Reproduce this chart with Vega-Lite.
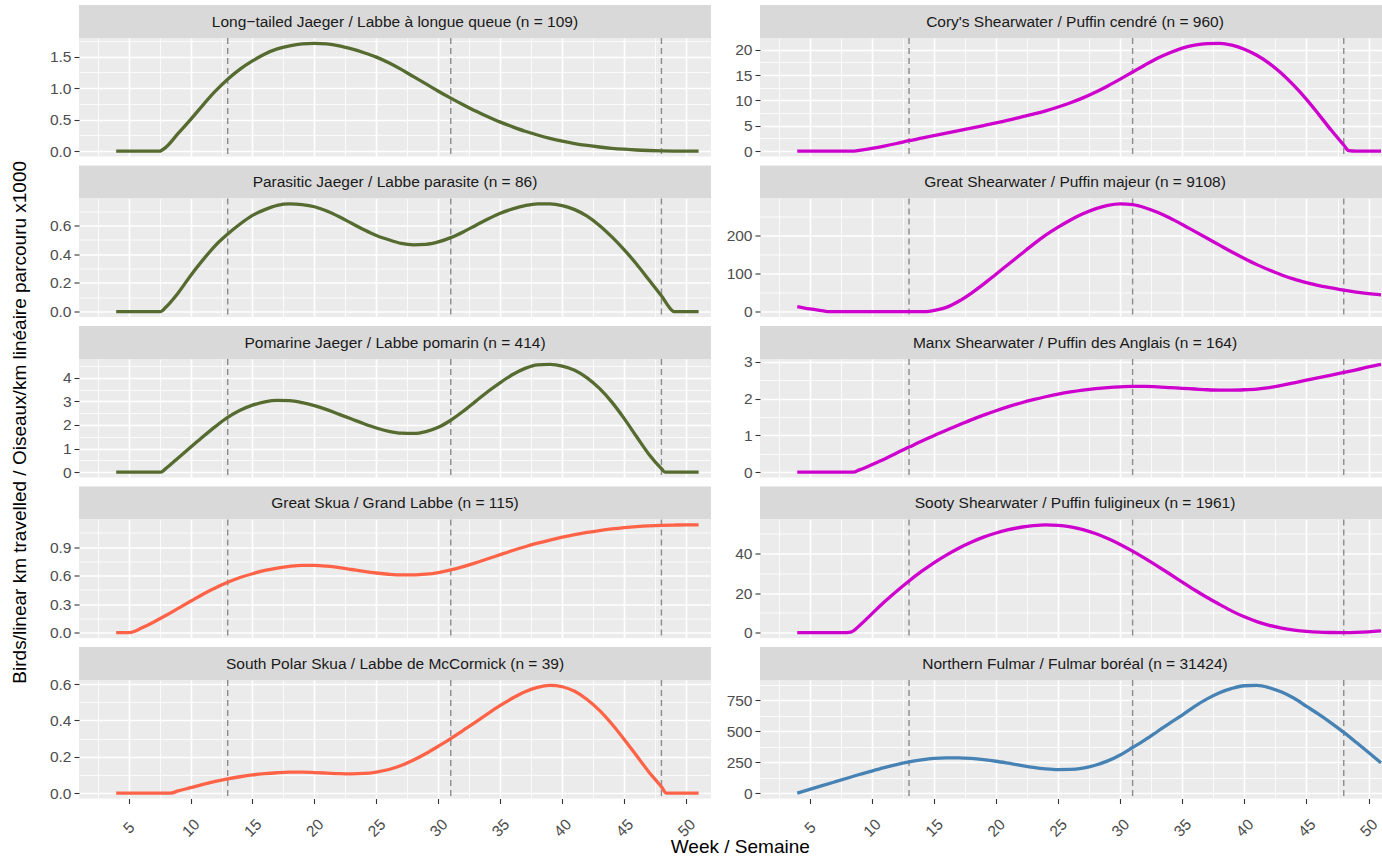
{
"$schema":"https://vega.github.io/schema/vega-lite/v6.json",
"padding":{"left":10,"top":5,"right":0,"bottom":0},
"config":{"font":"Liberation Sans","view":{"fill":"#ebebeb","stroke":null},
"axis":{"labelFontSize":15.5,"labelColor":"#4d4d4d","tickColor":"#333333","tickWidth":1.1,"tickSize":5,"domain":false,"gridColor":"#ffffff","gridOpacity":1,"labelOverlap":false,"labelFlush":false,"labelPadding":3},
"title":{"fontWeight":"normal","color":"#000000","fontSize":19}},
"datasets":{
"vlines":[{"week":13},{"week":31},{"week":48}],
"ltja":[{"week":4,"value":0},{"week":5,"value":0},{"week":6,"value":0},{"week":7,"value":0},{"week":7.5,"value":0},{"week":8,"value":0.06},{"week":9,"value":0.28},{"week":10,"value":0.5},{"week":11,"value":0.73},{"week":12,"value":0.95},{"week":13,"value":1.14},{"week":14,"value":1.3},{"week":15,"value":1.43},{"week":16,"value":1.54},{"week":17,"value":1.62},{"week":18,"value":1.67},{"week":19,"value":1.7},{"week":20,"value":1.708},{"week":21,"value":1.7},{"week":22,"value":1.67},{"week":23,"value":1.62},{"week":24,"value":1.56},{"week":25,"value":1.49},{"week":26,"value":1.4},{"week":27,"value":1.295},{"week":28,"value":1.18},{"week":29,"value":1.065},{"week":30,"value":0.95},{"week":31,"value":0.84},{"week":32,"value":0.735},{"week":33,"value":0.635},{"week":34,"value":0.545},{"week":35,"value":0.46},{"week":36,"value":0.385},{"week":37,"value":0.315},{"week":38,"value":0.255},{"week":39,"value":0.203},{"week":40,"value":0.158},{"week":41,"value":0.12},{"week":42,"value":0.09},{"week":43,"value":0.065},{"week":44,"value":0.045},{"week":45,"value":0.03},{"week":46,"value":0.018},{"week":47,"value":0.01},{"week":48,"value":0.004},{"week":49,"value":0.001},{"week":50,"value":0},{"week":51,"value":0}],
"paja":[{"week":4,"value":0},{"week":5,"value":0},{"week":6,"value":0},{"week":7,"value":0},{"week":7.6,"value":0},{"week":8,"value":0.03},{"week":9,"value":0.13},{"week":10,"value":0.25},{"week":11,"value":0.36},{"week":12,"value":0.46},{"week":13,"value":0.54},{"week":14,"value":0.61},{"week":15,"value":0.67},{"week":16,"value":0.71},{"week":17,"value":0.74},{"week":18,"value":0.75},{"week":19,"value":0.745},{"week":20,"value":0.73},{"week":21,"value":0.7},{"week":22,"value":0.66},{"week":23,"value":0.615},{"week":24,"value":0.57},{"week":25,"value":0.53},{"week":26,"value":0.5},{"week":27,"value":0.475},{"week":28,"value":0.465},{"week":29,"value":0.468},{"week":30,"value":0.485},{"week":31,"value":0.515},{"week":32,"value":0.555},{"week":33,"value":0.6},{"week":34,"value":0.645},{"week":35,"value":0.685},{"week":36,"value":0.715},{"week":37,"value":0.738},{"week":38,"value":0.75},{"week":39,"value":0.75},{"week":40,"value":0.738},{"week":41,"value":0.71},{"week":42,"value":0.665},{"week":43,"value":0.6},{"week":44,"value":0.52},{"week":45,"value":0.43},{"week":46,"value":0.33},{"week":47,"value":0.22},{"week":48,"value":0.11},{"week":48.9,"value":0.005},{"week":49,"value":0},{"week":50,"value":0},{"week":51,"value":0}],
"poja":[{"week":4,"value":0},{"week":5,"value":0},{"week":6,"value":0},{"week":7,"value":0},{"week":7.6,"value":0},{"week":8,"value":0.15},{"week":9,"value":0.6},{"week":10,"value":1.05},{"week":11,"value":1.5},{"week":12,"value":1.93},{"week":13,"value":2.32},{"week":14,"value":2.62},{"week":15,"value":2.84},{"week":16,"value":2.98},{"week":17,"value":3.04},{"week":18,"value":3.03},{"week":19,"value":2.95},{"week":20,"value":2.82},{"week":21,"value":2.65},{"week":22,"value":2.45},{"week":23,"value":2.25},{"week":24,"value":2.05},{"week":25,"value":1.87},{"week":26,"value":1.73},{"week":27,"value":1.65},{"week":28,"value":1.64},{"week":29,"value":1.72},{"week":30,"value":1.9},{"week":31,"value":2.2},{"week":32,"value":2.58},{"week":33,"value":3.0},{"week":34,"value":3.42},{"week":35,"value":3.8},{"week":36,"value":4.14},{"week":37,"value":4.4},{"week":38,"value":4.55},{"week":39,"value":4.57},{"week":40,"value":4.5},{"week":41,"value":4.32},{"week":42,"value":4.0},{"week":43,"value":3.55},{"week":44,"value":2.97},{"week":45,"value":2.27},{"week":46,"value":1.5},{"week":47,"value":0.75},{"week":48,"value":0.15},{"week":48.3,"value":0},{"week":49,"value":0},{"week":50,"value":0},{"week":51,"value":0}],
"grsk":[{"week":4,"value":0},{"week":5,"value":0},{"week":5.5,"value":0.015},{"week":6,"value":0.045},{"week":7,"value":0.11},{"week":8,"value":0.18},{"week":9,"value":0.255},{"week":10,"value":0.33},{"week":11,"value":0.405},{"week":12,"value":0.47},{"week":13,"value":0.53},{"week":14,"value":0.58},{"week":15,"value":0.62},{"week":16,"value":0.655},{"week":17,"value":0.68},{"week":18,"value":0.698},{"week":19,"value":0.708},{"week":20,"value":0.708},{"week":21,"value":0.7},{"week":22,"value":0.685},{"week":23,"value":0.665},{"week":24,"value":0.645},{"week":25,"value":0.628},{"week":26,"value":0.615},{"week":27,"value":0.608},{"week":28,"value":0.608},{"week":29,"value":0.616},{"week":30,"value":0.633},{"week":31,"value":0.66},{"week":32,"value":0.695},{"week":33,"value":0.735},{"week":34,"value":0.778},{"week":35,"value":0.822},{"week":36,"value":0.865},{"week":37,"value":0.905},{"week":38,"value":0.942},{"week":39,"value":0.975},{"week":40,"value":1.005},{"week":41,"value":1.032},{"week":42,"value":1.055},{"week":43,"value":1.075},{"week":44,"value":1.092},{"week":45,"value":1.106},{"week":46,"value":1.117},{"week":47,"value":1.125},{"week":48,"value":1.13},{"week":49,"value":1.133},{"week":50,"value":1.135},{"week":51,"value":1.135}],
"spsk":[{"week":4,"value":0},{"week":5,"value":0},{"week":6,"value":0},{"week":7,"value":0},{"week":8,"value":0},{"week":8.4,"value":0},{"week":9,"value":0.012},{"week":10,"value":0.03},{"week":11,"value":0.048},{"week":12,"value":0.064},{"week":13,"value":0.078},{"week":14,"value":0.09},{"week":15,"value":0.1},{"week":16,"value":0.107},{"week":17,"value":0.112},{"week":18,"value":0.115},{"week":19,"value":0.115},{"week":20,"value":0.113},{"week":21,"value":0.11},{"week":22,"value":0.107},{"week":23,"value":0.106},{"week":24,"value":0.108},{"week":25,"value":0.116},{"week":26,"value":0.13},{"week":27,"value":0.152},{"week":28,"value":0.182},{"week":29,"value":0.218},{"week":30,"value":0.258},{"week":31,"value":0.3},{"week":32,"value":0.345},{"week":33,"value":0.39},{"week":34,"value":0.437},{"week":35,"value":0.482},{"week":36,"value":0.523},{"week":37,"value":0.558},{"week":38,"value":0.582},{"week":39,"value":0.5925},{"week":40,"value":0.585},{"week":41,"value":0.56},{"week":42,"value":0.515},{"week":43,"value":0.455},{"week":44,"value":0.38},{"week":45,"value":0.295},{"week":46,"value":0.205},{"week":47,"value":0.115},{"week":48,"value":0.035},{"week":48.4,"value":0},{"week":49,"value":0},{"week":50,"value":0},{"week":51,"value":0}],
"cosh":[{"week":4,"value":0},{"week":5,"value":0},{"week":6,"value":0},{"week":7,"value":0},{"week":8,"value":0},{"week":8.6,"value":0},{"week":9,"value":0.15},{"week":10,"value":0.55},{"week":11,"value":1.0},{"week":12,"value":1.5},{"week":13,"value":2.05},{"week":14,"value":2.55},{"week":15,"value":3.05},{"week":16,"value":3.55},{"week":17,"value":4.05},{"week":18,"value":4.55},{"week":19,"value":5.05},{"week":20,"value":5.55},{"week":21,"value":6.1},{"week":22,"value":6.7},{"week":23,"value":7.3},{"week":24,"value":7.95},{"week":25,"value":8.7},{"week":26,"value":9.55},{"week":27,"value":10.5},{"week":28,"value":11.6},{"week":29,"value":12.85},{"week":30,"value":14.2},{"week":31,"value":15.6},{"week":32,"value":17.0},{"week":33,"value":18.3},{"week":34,"value":19.4},{"week":35,"value":20.3},{"week":36,"value":20.9},{"week":37,"value":21.2},{"week":38,"value":21.25},{"week":39,"value":20.9},{"week":40,"value":20.1},{"week":41,"value":18.9},{"week":42,"value":17.3},{"week":43,"value":15.3},{"week":44,"value":12.9},{"week":45,"value":10.2},{"week":46,"value":7.2},{"week":47,"value":4.1},{"week":48,"value":1.2},{"week":48.4,"value":0.1},{"week":49,"value":0},{"week":50,"value":0},{"week":51,"value":0}],
"grsh":[{"week":4,"value":13},{"week":5,"value":7},{"week":6,"value":2.5},{"week":6.6,"value":0},{"week":7,"value":0},{"week":8,"value":0},{"week":9,"value":0},{"week":10,"value":0},{"week":11,"value":0},{"week":12,"value":0},{"week":13,"value":0},{"week":14,"value":0},{"week":14.4,"value":0},{"week":15,"value":3},{"week":16,"value":11},{"week":17,"value":27},{"week":18,"value":48},{"week":19,"value":72},{"week":20,"value":98},{"week":21,"value":124},{"week":22,"value":150},{"week":23,"value":176},{"week":24,"value":200},{"week":25,"value":221},{"week":26,"value":240},{"week":27,"value":256},{"week":28,"value":269},{"week":29,"value":278},{"week":30,"value":282},{"week":31,"value":280},{"week":32,"value":272},{"week":33,"value":260},{"week":34,"value":245},{"week":35,"value":228},{"week":36,"value":210},{"week":37,"value":192},{"week":38,"value":174},{"week":39,"value":156},{"week":40,"value":139},{"week":41,"value":123},{"week":42,"value":109},{"week":43,"value":96},{"week":44,"value":85},{"week":45,"value":76},{"week":46,"value":68},{"week":47,"value":62},{"week":48,"value":56},{"week":49,"value":51},{"week":50,"value":47},{"week":51,"value":44}],
"mash":[{"week":4,"value":0},{"week":5,"value":0},{"week":6,"value":0},{"week":7,"value":0},{"week":8,"value":0},{"week":8.5,"value":0},{"week":9,"value":0.06},{"week":10,"value":0.2},{"week":11,"value":0.35},{"week":12,"value":0.52},{"week":13,"value":0.68},{"week":14,"value":0.84},{"week":15,"value":0.99},{"week":16,"value":1.14},{"week":17,"value":1.28},{"week":18,"value":1.42},{"week":19,"value":1.55},{"week":20,"value":1.67},{"week":21,"value":1.78},{"week":22,"value":1.88},{"week":23,"value":1.97},{"week":24,"value":2.05},{"week":25,"value":2.12},{"week":26,"value":2.18},{"week":27,"value":2.23},{"week":28,"value":2.27},{"week":29,"value":2.3},{"week":30,"value":2.32},{"week":31,"value":2.33},{"week":32,"value":2.33},{"week":33,"value":2.32},{"week":34,"value":2.3},{"week":35,"value":2.28},{"week":36,"value":2.26},{"week":37,"value":2.24},{"week":38,"value":2.23},{"week":39,"value":2.23},{"week":40,"value":2.24},{"week":41,"value":2.26},{"week":42,"value":2.3},{"week":43,"value":2.36},{"week":44,"value":2.43},{"week":45,"value":2.5},{"week":46,"value":2.57},{"week":47,"value":2.64},{"week":48,"value":2.71},{"week":49,"value":2.78},{"week":50,"value":2.86},{"week":51,"value":2.93}],
"sosh":[{"week":4,"value":0},{"week":5,"value":0},{"week":6,"value":0},{"week":7,"value":0},{"week":8,"value":0},{"week":8.3,"value":0.2},{"week":9,"value":3.5},{"week":10,"value":9.5},{"week":11,"value":15.5},{"week":12,"value":21},{"week":13,"value":26.2},{"week":14,"value":31},{"week":15,"value":35.4},{"week":16,"value":39.3},{"week":17,"value":42.8},{"week":18,"value":45.8},{"week":19,"value":48.4},{"week":20,"value":50.5},{"week":21,"value":52.2},{"week":22,"value":53.4},{"week":23,"value":54.2},{"week":24,"value":54.6},{"week":25,"value":54.4},{"week":26,"value":53.6},{"week":27,"value":52.2},{"week":28,"value":50.2},{"week":29,"value":47.7},{"week":30,"value":44.7},{"week":31,"value":41.3},{"week":32,"value":37.6},{"week":33,"value":33.7},{"week":34,"value":29.7},{"week":35,"value":25.6},{"week":36,"value":21.6},{"week":37,"value":17.8},{"week":38,"value":14.3},{"week":39,"value":10.9},{"week":40,"value":8.0},{"week":41,"value":5.6},{"week":42,"value":3.7},{"week":43,"value":2.3},{"week":44,"value":1.3},{"week":45,"value":0.6},{"week":46,"value":0.2},{"week":47,"value":0.05},{"week":48,"value":0},{"week":49,"value":0.1},{"week":50,"value":0.4},{"week":51,"value":0.9}],
"nofu":[{"week":4,"value":0},{"week":5,"value":30},{"week":6,"value":60},{"week":7,"value":90},{"week":8,"value":120},{"week":9,"value":150},{"week":10,"value":178},{"week":11,"value":205},{"week":12,"value":230},{"week":13,"value":252},{"week":14,"value":268},{"week":15,"value":280},{"week":16,"value":285},{"week":17,"value":285},{"week":18,"value":280},{"week":19,"value":270},{"week":20,"value":257},{"week":21,"value":241},{"week":22,"value":224},{"week":23,"value":208},{"week":24,"value":196},{"week":25,"value":190},{"week":26,"value":191},{"week":27,"value":202},{"week":28,"value":225},{"week":29,"value":260},{"week":30,"value":308},{"week":31,"value":368},{"week":32,"value":430},{"week":33,"value":497},{"week":34,"value":565},{"week":35,"value":630},{"week":36,"value":700},{"week":37,"value":760},{"week":38,"value":810},{"week":39,"value":845},{"week":40,"value":866},{"week":41,"value":869},{"week":42,"value":850},{"week":43,"value":815},{"week":44,"value":765},{"week":45,"value":700},{"week":46,"value":635},{"week":47,"value":565},{"week":48,"value":490},{"week":49,"value":410},{"week":50,"value":328},{"week":51,"value":244}]
},
"title":{"text":"Week / Semaine","orient":"bottom","anchor":"middle","offset":-2,"dx":41},
"hconcat":[
{"title":{"text":"Birds/linear km travelled / Oiseaux/km linéaire parcouru x1000","orient":"left","anchor":"middle","offset":17},
"spacing":5.5,
"vconcat":[
{"spacing":0,"bounds":"flush","vconcat":[
{"width":632,"height":33,"view":{"fill":"#d9d9d9","stroke":null},"data":{"values":[{"label":"Long−tailed Jaeger / Labbe à longue queue (n = 109)"}]},"mark":{"type":"text","fontSize":15.5,"color":"#1a1a1a"},"encoding":{"text":{"field":"label"}}},
{"width":632,"height":118.5,
"encoding":{"x":{"field":"week","type":"quantitative","scale":{"domain":[1,52],"nice":false},"axis":{"values":[2.5,5,7.5,10,12.5,15,17.5,20,22.5,25,27.5,30,32.5,35,37.5,40,42.5,45,47.5,50],"labels":false,"ticks":false,"grid":true,"gridWidth":{"condition":{"test":"abs(datum.value/5-round(datum.value/5))<0.000001","value":1.6},"value":0.8},"minExtent":0,"maxExtent":0,"title":null}}},
"layer":[
{"data":{"name":"vlines"},"mark":{"type":"rule","strokeDash":[6,4],"color":"#8c8c8c","strokeWidth":1.4},"encoding":{}},
{"data":{"name":"ltja"},"mark":{"type":"line","color":"#556B2F","strokeWidth":3.3,"interpolate":"monotone"},"encoding":{
"y":{"field":"value","type":"quantitative","scale":{"domain":[-0.0854,1.7934],"nice":false,"zero":false},"axis":{"values":[0,0.25,0.5,0.75,1,1.25,1.5,1.75],"labelExpr":"abs(datum.value/0.5-round(datum.value/0.5))<0.000001 ? format(datum.value,'.1f') : ''","tickOpacity":{"condition":{"test":"abs(datum.value/0.5-round(datum.value/0.5))<0.000001","value":1},"value":0},"gridWidth":{"condition":{"test":"abs(datum.value/0.5-round(datum.value/0.5))<0.000001","value":1.6},"value":0.8},"minExtent":32,"maxExtent":32,"title":null}}}}
]}
]},
{"spacing":0,"bounds":"flush","vconcat":[
{"width":632,"height":33,"view":{"fill":"#d9d9d9","stroke":null},"data":{"values":[{"label":"Parasitic Jaeger / Labbe parasite (n = 86)"}]},"mark":{"type":"text","fontSize":15.5,"color":"#1a1a1a"},"encoding":{"text":{"field":"label"}}},
{"width":632,"height":118.5,
"encoding":{"x":{"field":"week","type":"quantitative","scale":{"domain":[1,52],"nice":false},"axis":{"values":[2.5,5,7.5,10,12.5,15,17.5,20,22.5,25,27.5,30,32.5,35,37.5,40,42.5,45,47.5,50],"labels":false,"ticks":false,"grid":true,"gridWidth":{"condition":{"test":"abs(datum.value/5-round(datum.value/5))<0.000001","value":1.6},"value":0.8},"minExtent":0,"maxExtent":0,"title":null}}},
"layer":[
{"data":{"name":"vlines"},"mark":{"type":"rule","strokeDash":[6,4],"color":"#8c8c8c","strokeWidth":1.4},"encoding":{}},
{"data":{"name":"paja"},"mark":{"type":"line","color":"#556B2F","strokeWidth":3.3,"interpolate":"monotone"},"encoding":{
"y":{"field":"value","type":"quantitative","scale":{"domain":[-0.0375,0.7875],"nice":false,"zero":false},"axis":{"values":[0,0.1,0.2,0.3,0.4,0.5,0.6,0.7],"labelExpr":"abs(datum.value/0.2-round(datum.value/0.2))<0.000001 ? format(datum.value,'.1f') : ''","tickOpacity":{"condition":{"test":"abs(datum.value/0.2-round(datum.value/0.2))<0.000001","value":1},"value":0},"gridWidth":{"condition":{"test":"abs(datum.value/0.2-round(datum.value/0.2))<0.000001","value":1.6},"value":0.8},"minExtent":32,"maxExtent":32,"title":null}}}}
]}
]},
{"spacing":0,"bounds":"flush","vconcat":[
{"width":632,"height":33,"view":{"fill":"#d9d9d9","stroke":null},"data":{"values":[{"label":"Pomarine Jaeger / Labbe pomarin (n = 414)"}]},"mark":{"type":"text","fontSize":15.5,"color":"#1a1a1a"},"encoding":{"text":{"field":"label"}}},
{"width":632,"height":118.5,
"encoding":{"x":{"field":"week","type":"quantitative","scale":{"domain":[1,52],"nice":false},"axis":{"values":[2.5,5,7.5,10,12.5,15,17.5,20,22.5,25,27.5,30,32.5,35,37.5,40,42.5,45,47.5,50],"labels":false,"ticks":false,"grid":true,"gridWidth":{"condition":{"test":"abs(datum.value/5-round(datum.value/5))<0.000001","value":1.6},"value":0.8},"minExtent":0,"maxExtent":0,"title":null}}},
"layer":[
{"data":{"name":"vlines"},"mark":{"type":"rule","strokeDash":[6,4],"color":"#8c8c8c","strokeWidth":1.4},"encoding":{}},
{"data":{"name":"poja"},"mark":{"type":"line","color":"#556B2F","strokeWidth":3.3,"interpolate":"monotone"},"encoding":{
"y":{"field":"value","type":"quantitative","scale":{"domain":[-0.2285,4.7985],"nice":false,"zero":false},"axis":{"values":[0,0.5,1,1.5,2,2.5,3,3.5,4,4.5],"labelExpr":"abs(datum.value-round(datum.value))<0.000001 ? format(datum.value,'d') : ''","tickOpacity":{"condition":{"test":"abs(datum.value-round(datum.value))<0.000001","value":1},"value":0},"gridWidth":{"condition":{"test":"abs(datum.value-round(datum.value))<0.000001","value":1.6},"value":0.8},"minExtent":32,"maxExtent":32,"title":null}}}}
]}
]},
{"spacing":0,"bounds":"flush","vconcat":[
{"width":632,"height":33,"view":{"fill":"#d9d9d9","stroke":null},"data":{"values":[{"label":"Great Skua / Grand Labbe (n = 115)"}]},"mark":{"type":"text","fontSize":15.5,"color":"#1a1a1a"},"encoding":{"text":{"field":"label"}}},
{"width":632,"height":118.5,
"encoding":{"x":{"field":"week","type":"quantitative","scale":{"domain":[1,52],"nice":false},"axis":{"values":[2.5,5,7.5,10,12.5,15,17.5,20,22.5,25,27.5,30,32.5,35,37.5,40,42.5,45,47.5,50],"labels":false,"ticks":false,"grid":true,"gridWidth":{"condition":{"test":"abs(datum.value/5-round(datum.value/5))<0.000001","value":1.6},"value":0.8},"minExtent":0,"maxExtent":0,"title":null}}},
"layer":[
{"data":{"name":"vlines"},"mark":{"type":"rule","strokeDash":[6,4],"color":"#8c8c8c","strokeWidth":1.4},"encoding":{}},
{"data":{"name":"grsk"},"mark":{"type":"line","color":"#FF6347","strokeWidth":3.3,"interpolate":"monotone"},"encoding":{
"y":{"field":"value","type":"quantitative","scale":{"domain":[-0.05675,1.19175],"nice":false,"zero":false},"axis":{"values":[0,0.15,0.3,0.45,0.6,0.75,0.9,1.05],"labelExpr":"abs(datum.value/0.3-round(datum.value/0.3))<0.000001 ? format(datum.value,'.1f') : ''","tickOpacity":{"condition":{"test":"abs(datum.value/0.3-round(datum.value/0.3))<0.000001","value":1},"value":0},"gridWidth":{"condition":{"test":"abs(datum.value/0.3-round(datum.value/0.3))<0.000001","value":1.6},"value":0.8},"minExtent":32,"maxExtent":32,"title":null}}}}
]}
]},
{"spacing":0,"bounds":"flush","vconcat":[
{"width":632,"height":33,"view":{"fill":"#d9d9d9","stroke":null},"data":{"values":[{"label":"South Polar Skua / Labbe de McCormick (n = 39)"}]},"mark":{"type":"text","fontSize":15.5,"color":"#1a1a1a"},"encoding":{"text":{"field":"label"}}},
{"width":632,"height":118.5,
"encoding":{"x":{"field":"week","type":"quantitative","scale":{"domain":[1,52],"nice":false},"axis":{"values":[2.5,5,7.5,10,12.5,15,17.5,20,22.5,25,27.5,30,32.5,35,37.5,40,42.5,45,47.5,50],"grid":true,"gridWidth":{"condition":{"test":"abs(datum.value/5-round(datum.value/5))<0.000001","value":1.6},"value":0.8},"labelExpr":"abs(datum.value/5-round(datum.value/5))<0.000001 ? format(datum.value,'d') : ''","tickOpacity":{"condition":{"test":"abs(datum.value/5-round(datum.value/5))<0.000001","value":1},"value":0},"labelAngle":-45,"labelAlign":"center","labelBaseline":"middle","labelPadding":24,"title":null}}},
"layer":[
{"data":{"name":"vlines"},"mark":{"type":"rule","strokeDash":[6,4],"color":"#8c8c8c","strokeWidth":1.4},"encoding":{}},
{"data":{"name":"spsk"},"mark":{"type":"line","color":"#FF6347","strokeWidth":3.3,"interpolate":"monotone"},"encoding":{
"y":{"field":"value","type":"quantitative","scale":{"domain":[-0.029625,0.622125],"nice":false,"zero":false},"axis":{"values":[0,0.1,0.2,0.3,0.4,0.5,0.6],"labelExpr":"abs(datum.value/0.2-round(datum.value/0.2))<0.000001 ? format(datum.value,'.1f') : ''","tickOpacity":{"condition":{"test":"abs(datum.value/0.2-round(datum.value/0.2))<0.000001","value":1},"value":0},"gridWidth":{"condition":{"test":"abs(datum.value/0.2-round(datum.value/0.2))<0.000001","value":1.6},"value":0.8},"minExtent":32,"maxExtent":32,"title":null}}}}
]}
]}
]},
{"spacing":5.5,
"vconcat":[
{"spacing":0,"bounds":"flush","vconcat":[
{"width":622,"height":33,"view":{"fill":"#d9d9d9","stroke":null},"data":{"values":[{"label":"Cory's Shearwater / Puffin cendré (n = 960)"}]},"mark":{"type":"text","fontSize":15.5,"color":"#1a1a1a","dx":4},"encoding":{"text":{"field":"label"}}},
{"width":622,"height":118.5,
"encoding":{"x":{"field":"week","type":"quantitative","scale":{"domain":[1,51.08],"nice":false},"axis":{"values":[2.5,5,7.5,10,12.5,15,17.5,20,22.5,25,27.5,30,32.5,35,37.5,40,42.5,45,47.5,50],"labels":false,"ticks":false,"grid":true,"gridWidth":{"condition":{"test":"abs(datum.value/5-round(datum.value/5))<0.000001","value":1.6},"value":0.8},"minExtent":0,"maxExtent":0,"title":null}}},
"layer":[
{"data":{"name":"vlines"},"mark":{"type":"rule","strokeDash":[6,4],"color":"#8c8c8c","strokeWidth":1.4},"encoding":{}},
{"data":{"name":"cosh"},"mark":{"type":"line","color":"#CD00CD","strokeWidth":3.3,"interpolate":"monotone"},"encoding":{
"y":{"field":"value","type":"quantitative","scale":{"domain":[-1.0625,22.3125],"nice":false,"zero":false},"axis":{"values":[0,2.5,5,7.5,10,12.5,15,17.5,20],"labelExpr":"abs(datum.value/5-round(datum.value/5))<0.000001 ? format(datum.value,'d') : ''","tickOpacity":{"condition":{"test":"abs(datum.value/5-round(datum.value/5))<0.000001","value":1},"value":0},"gridWidth":{"condition":{"test":"abs(datum.value/5-round(datum.value/5))<0.000001","value":1.6},"value":0.8},"minExtent":36,"maxExtent":36,"title":null}}}}
]}
]},
{"spacing":0,"bounds":"flush","vconcat":[
{"width":622,"height":33,"view":{"fill":"#d9d9d9","stroke":null},"data":{"values":[{"label":"Great Shearwater / Puffin majeur (n = 9108)"}]},"mark":{"type":"text","fontSize":15.5,"color":"#1a1a1a","dx":4},"encoding":{"text":{"field":"label"}}},
{"width":622,"height":118.5,
"encoding":{"x":{"field":"week","type":"quantitative","scale":{"domain":[1,51.08],"nice":false},"axis":{"values":[2.5,5,7.5,10,12.5,15,17.5,20,22.5,25,27.5,30,32.5,35,37.5,40,42.5,45,47.5,50],"labels":false,"ticks":false,"grid":true,"gridWidth":{"condition":{"test":"abs(datum.value/5-round(datum.value/5))<0.000001","value":1.6},"value":0.8},"minExtent":0,"maxExtent":0,"title":null}}},
"layer":[
{"data":{"name":"vlines"},"mark":{"type":"rule","strokeDash":[6,4],"color":"#8c8c8c","strokeWidth":1.4},"encoding":{}},
{"data":{"name":"grsh"},"mark":{"type":"line","color":"#CD00CD","strokeWidth":3.3,"interpolate":"monotone"},"encoding":{
"y":{"field":"value","type":"quantitative","scale":{"domain":[-14.1,296.1],"nice":false,"zero":false},"axis":{"values":[0,50,100,150,200,250],"labelExpr":"abs(datum.value/100-round(datum.value/100))<0.000001 ? format(datum.value,'d') : ''","tickOpacity":{"condition":{"test":"abs(datum.value/100-round(datum.value/100))<0.000001","value":1},"value":0},"gridWidth":{"condition":{"test":"abs(datum.value/100-round(datum.value/100))<0.000001","value":1.6},"value":0.8},"minExtent":36,"maxExtent":36,"title":null}}}}
]}
]},
{"spacing":0,"bounds":"flush","vconcat":[
{"width":622,"height":33,"view":{"fill":"#d9d9d9","stroke":null},"data":{"values":[{"label":"Manx Shearwater / Puffin des Anglais (n = 164)"}]},"mark":{"type":"text","fontSize":15.5,"color":"#1a1a1a","dx":4},"encoding":{"text":{"field":"label"}}},
{"width":622,"height":118.5,
"encoding":{"x":{"field":"week","type":"quantitative","scale":{"domain":[1,51.08],"nice":false},"axis":{"values":[2.5,5,7.5,10,12.5,15,17.5,20,22.5,25,27.5,30,32.5,35,37.5,40,42.5,45,47.5,50],"labels":false,"ticks":false,"grid":true,"gridWidth":{"condition":{"test":"abs(datum.value/5-round(datum.value/5))<0.000001","value":1.6},"value":0.8},"minExtent":0,"maxExtent":0,"title":null}}},
"layer":[
{"data":{"name":"vlines"},"mark":{"type":"rule","strokeDash":[6,4],"color":"#8c8c8c","strokeWidth":1.4},"encoding":{}},
{"data":{"name":"mash"},"mark":{"type":"line","color":"#CD00CD","strokeWidth":3.3,"interpolate":"monotone"},"encoding":{
"y":{"field":"value","type":"quantitative","scale":{"domain":[-0.1465,3.0765],"nice":false,"zero":false},"axis":{"values":[0,0.5,1,1.5,2,2.5,3],"labelExpr":"abs(datum.value-round(datum.value))<0.000001 ? format(datum.value,'d') : ''","tickOpacity":{"condition":{"test":"abs(datum.value-round(datum.value))<0.000001","value":1},"value":0},"gridWidth":{"condition":{"test":"abs(datum.value-round(datum.value))<0.000001","value":1.6},"value":0.8},"minExtent":36,"maxExtent":36,"title":null}}}}
]}
]},
{"spacing":0,"bounds":"flush","vconcat":[
{"width":622,"height":33,"view":{"fill":"#d9d9d9","stroke":null},"data":{"values":[{"label":"Sooty Shearwater / Puffin fuligineux (n = 1961)"}]},"mark":{"type":"text","fontSize":15.5,"color":"#1a1a1a","dx":4},"encoding":{"text":{"field":"label"}}},
{"width":622,"height":118.5,
"encoding":{"x":{"field":"week","type":"quantitative","scale":{"domain":[1,51.08],"nice":false},"axis":{"values":[2.5,5,7.5,10,12.5,15,17.5,20,22.5,25,27.5,30,32.5,35,37.5,40,42.5,45,47.5,50],"labels":false,"ticks":false,"grid":true,"gridWidth":{"condition":{"test":"abs(datum.value/5-round(datum.value/5))<0.000001","value":1.6},"value":0.8},"minExtent":0,"maxExtent":0,"title":null}}},
"layer":[
{"data":{"name":"vlines"},"mark":{"type":"rule","strokeDash":[6,4],"color":"#8c8c8c","strokeWidth":1.4},"encoding":{}},
{"data":{"name":"sosh"},"mark":{"type":"line","color":"#CD00CD","strokeWidth":3.3,"interpolate":"monotone"},"encoding":{
"y":{"field":"value","type":"quantitative","scale":{"domain":[-2.73,57.33],"nice":false,"zero":false},"axis":{"values":[0,10,20,30,40,50],"labelExpr":"abs(datum.value/20-round(datum.value/20))<0.000001 ? format(datum.value,'d') : ''","tickOpacity":{"condition":{"test":"abs(datum.value/20-round(datum.value/20))<0.000001","value":1},"value":0},"gridWidth":{"condition":{"test":"abs(datum.value/20-round(datum.value/20))<0.000001","value":1.6},"value":0.8},"minExtent":36,"maxExtent":36,"title":null}}}}
]}
]},
{"spacing":0,"bounds":"flush","vconcat":[
{"width":622,"height":33,"view":{"fill":"#d9d9d9","stroke":null},"data":{"values":[{"label":"Northern Fulmar / Fulmar boréal (n = 31424)"}]},"mark":{"type":"text","fontSize":15.5,"color":"#1a1a1a","dx":4},"encoding":{"text":{"field":"label"}}},
{"width":622,"height":118.5,
"encoding":{"x":{"field":"week","type":"quantitative","scale":{"domain":[1,51.08],"nice":false},"axis":{"values":[2.5,5,7.5,10,12.5,15,17.5,20,22.5,25,27.5,30,32.5,35,37.5,40,42.5,45,47.5,50],"grid":true,"gridWidth":{"condition":{"test":"abs(datum.value/5-round(datum.value/5))<0.000001","value":1.6},"value":0.8},"labelExpr":"abs(datum.value/5-round(datum.value/5))<0.000001 ? format(datum.value,'d') : ''","tickOpacity":{"condition":{"test":"abs(datum.value/5-round(datum.value/5))<0.000001","value":1},"value":0},"labelAngle":-45,"labelAlign":"center","labelBaseline":"middle","labelPadding":24,"title":null}}},
"layer":[
{"data":{"name":"vlines"},"mark":{"type":"rule","strokeDash":[6,4],"color":"#8c8c8c","strokeWidth":1.4},"encoding":{}},
{"data":{"name":"nofu"},"mark":{"type":"line","color":"#4682B4","strokeWidth":3.3,"interpolate":"monotone"},"encoding":{
"y":{"field":"value","type":"quantitative","scale":{"domain":[-43.45,912.45],"nice":false,"zero":false},"axis":{"values":[0,125,250,375,500,625,750,875],"labelExpr":"abs(datum.value/250-round(datum.value/250))<0.000001 ? format(datum.value,'d') : ''","tickOpacity":{"condition":{"test":"abs(datum.value/250-round(datum.value/250))<0.000001","value":1},"value":0},"gridWidth":{"condition":{"test":"abs(datum.value/250-round(datum.value/250))<0.000001","value":1.6},"value":0.8},"minExtent":36,"maxExtent":36,"title":null}}}}
]}
]}
]}
],
"spacing":13
}
